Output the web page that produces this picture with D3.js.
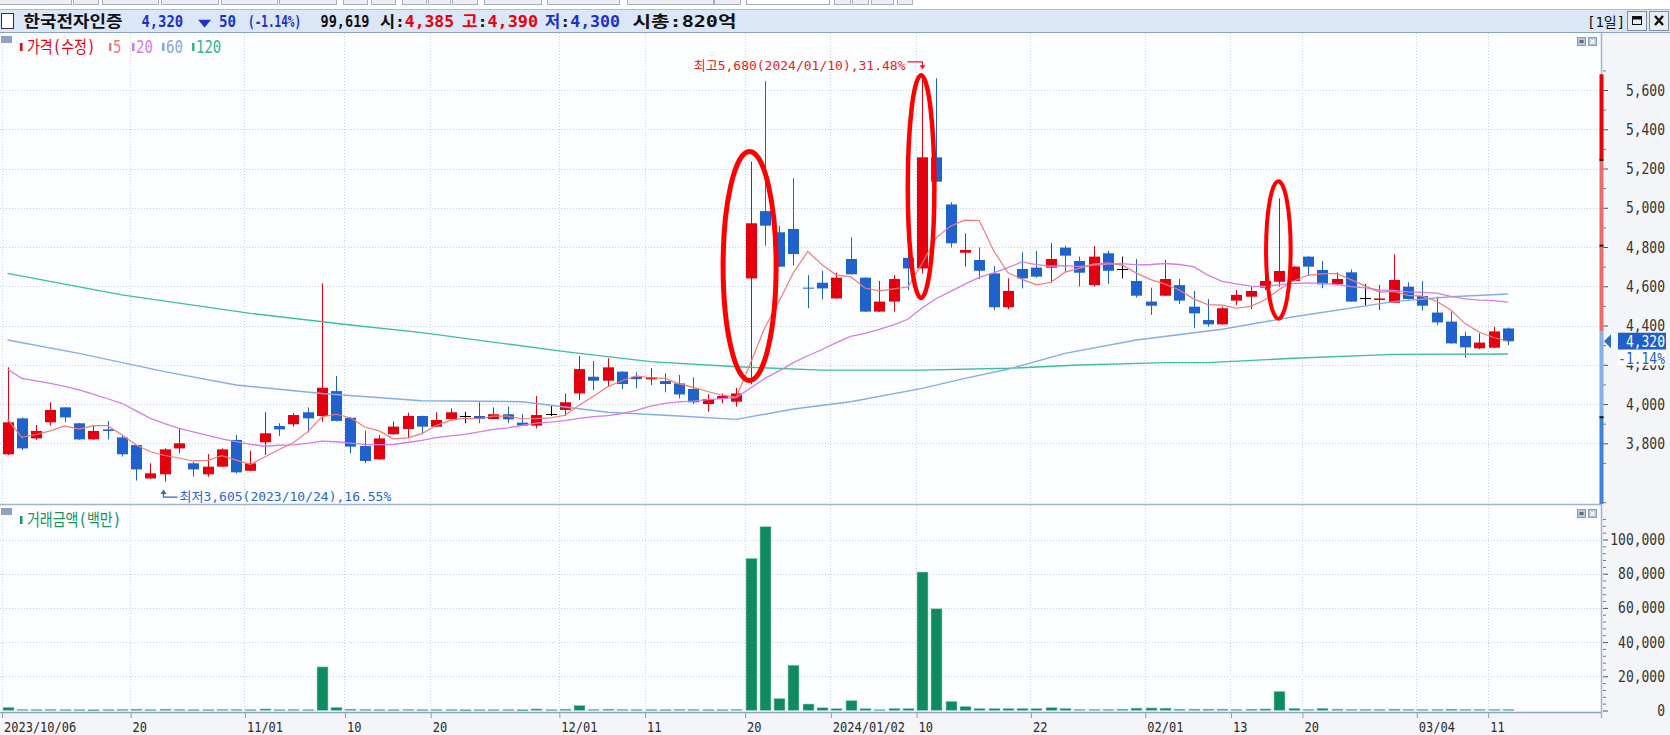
<!DOCTYPE html>
<html><head><meta charset="utf-8">
<script src="https://cdn.jsdelivr.net/npm/d3@7/dist/d3.min.js"></script>
<style>
html,body{margin:0;padding:0;background:#fff;overflow:hidden;}
svg{display:block;}
text{font-family:"DejaVu Sans Mono","Noto Sans CJK KR",monospace;}
.tall{transform-box:fill-box;transform-origin:center;transform:scaleY(1.2);}
</style></head><body>
<svg id="chart" width="1670" height="735"></svg>
<script>
// ---------------- DATA ----------------
const dates = [
"2023/10/06","2023/10/10","2023/10/11","2023/10/12","2023/10/13","2023/10/16","2023/10/17","2023/10/18","2023/10/19","2023/10/20",
"2023/10/23","2023/10/24","2023/10/25","2023/10/26","2023/10/27","2023/10/30","2023/10/31",
"2023/11/01","2023/11/02","2023/11/03","2023/11/06","2023/11/07","2023/11/08","2023/11/09","2023/11/10","2023/11/13","2023/11/14",
"2023/11/15","2023/11/16","2023/11/17","2023/11/20","2023/11/21","2023/11/22","2023/11/23","2023/11/24","2023/11/27","2023/11/28","2023/11/29","2023/11/30",
"2023/12/01","2023/12/04","2023/12/05","2023/12/06","2023/12/07","2023/12/08","2023/12/11","2023/12/12","2023/12/13","2023/12/14",
"2023/12/15","2023/12/18","2023/12/19","2023/12/20","2023/12/21","2023/12/22","2023/12/26","2023/12/27","2023/12/28",
"2024/01/02","2024/01/03","2024/01/04","2024/01/05","2024/01/08","2024/01/09","2024/01/10","2024/01/11","2024/01/12","2024/01/15",
"2024/01/16","2024/01/17","2024/01/18","2024/01/19","2024/01/22","2024/01/23","2024/01/24","2024/01/25","2024/01/26","2024/01/29","2024/01/30","2024/01/31",
"2024/02/01","2024/02/02","2024/02/05","2024/02/06","2024/02/07","2024/02/08","2024/02/13","2024/02/14","2024/02/15","2024/02/16",
"2024/02/19","2024/02/20","2024/02/21","2024/02/22","2024/02/23","2024/02/26","2024/02/27","2024/02/28","2024/02/29",
"2024/03/04","2024/03/05","2024/03/06","2024/03/07","2024/03/08","2024/03/11","2024/03/12"];

const opens = [3744,3927,3825,3907,3983,3902,3820,3871,3830,3791,3621,3642,3774,3698,3642,3681,3817,3660,3805,3888,
3897,3958,3939,4066,3930,3786,3718,3846,3873,3939,3885,3924,3939,3939,3924,3948,3905,3890,3948,3970,
4054,4139,4119,4165,4139,4126,4117,4105,4077,4000,4026,4012,4640,4983,4875,4892,4593,4618,4538,4739,
4644,4471,4522,4745,4691,5257,5017,4771,4734,4666,4493,4688,4695,4695,4797,4729,4606,4768,4686,4627,
4522,4552,4606,4496,4428,4406,4527,4547,4593,4623,4627,4751,4683,4610,4671,4542,4530,4516,4598,4550,
4466,4420,4347,4284,4287,4385];
const highs = [4187,3932,3893,4009,3985,3904,3890,3913,3842,3793,3698,3774,3873,3706,3745,3774,3842,3762,3958,3902,
3953,3983,4615,4143,3932,3864,3842,3910,3956,3941,3958,3978,3961,4009,3983,3987,3949,4041,3995,4054,
4245,4219,4233,4167,4161,4182,4156,4148,4136,4049,4054,4083,5235,5645,4909,5150,4657,4678,4669,4849,
4646,4627,4657,4840,5680,5660,5028,4870,4798,4703,4640,4773,4780,4819,4807,4751,4805,4781,4751,4739,
4593,4734,4637,4576,4535,4496,4581,4598,4650,5048,4703,4753,4729,4671,4686,4612,4606,4763,4620,4627,
4547,4471,4369,4360,4394,4390];
const lows = [3740,3766,3817,3890,3907,3818,3818,3820,3732,3610,3619,3605,3749,3630,3630,3679,3647,3658,3740,3837,
3885,3856,3910,3912,3749,3698,3716,3844,3825,3851,3883,3919,3902,3902,3922,3902,3888,3876,3939,3939,
4021,4071,4088,4075,4080,4097,4060,4029,4000,3961,4003,3987,4100,4807,4698,4705,4488,4533,4536,4659,
4469,4469,4471,4580,4666,5131,4798,4700,4637,4479,4483,4589,4644,4618,4674,4598,4598,4612,4640,4543,
4454,4550,4510,4386,4394,4404,4505,4483,4581,4598,4625,4657,4590,4603,4520,4501,4479,4514,4533,4476,
4403,4307,4236,4279,4285,4300];
const closes = [3907,3774,3863,3970,3932,3820,3863,3863,3744,3667,3647,3769,3800,3667,3681,3769,3652,3698,3851,3871,
3944,3927,4083,3914,3783,3710,3825,3885,3939,3885,3919,3958,3939,3924,3948,3922,3890,3944,3948,4009,
4178,4119,4187,4102,4127,4136,4102,4049,4009,4026,4041,4054,4921,4909,4700,4764,4589,4589,4644,4661,
4471,4522,4637,4691,5257,5133,4819,4785,4679,4493,4576,4640,4649,4739,4756,4669,4751,4679,4686,4552,
4501,4637,4527,4462,4406,4488,4556,4576,4627,4678,4700,4700,4610,4637,4522,4542,4538,4632,4535,4501,
4416,4309,4289,4313,4370,4320];

const ma5 = [3922,3830,3845,3863,3889,3872,3890,3890,3844,3791,3757,3738,3725,3710,3713,3737,3714,3693,3730,3768,
3803,3858,3935,3948,3930,3883,3863,3823,3828,3849,3891,3917,3928,3925,3938,3938,3925,3926,3930,3943,
3994,4040,4088,4119,4143,4134,4131,4103,4085,4064,4045,4036,4210,4390,4525,4670,4777,4710,4657,4649,
4591,4577,4587,4596,4716,4848,4907,4937,4935,4782,4670,4635,4607,4619,4672,4691,4713,4719,4708,4667,
4634,4611,4581,4536,4507,4504,4488,4498,4531,4585,4627,4656,4663,4665,4634,4602,4570,4574,4554,4550,
4524,4479,4410,4366,4339,4320];
const ma20 = [4177,4131,4118,4105,4090,4072,4050,4027,4004,3965,3927,3900,3876,3858,3840,3822,3808,3795,3785,3790,
3792,3800,3811,3808,3801,3795,3793,3794,3804,3815,3829,3838,3845,3858,3871,3879,3891,3903,3908,3915,
3927,3936,3941,3951,3968,3989,4003,4011,4015,4022,4028,4033,4082,4131,4169,4211,4246,4278,4313,4345,
4360,4380,4403,4432,4489,4538,4574,4611,4645,4668,4695,4724,4710,4702,4705,4700,4708,4713,4715,4709,
4711,4716,4711,4700,4657,4625,4612,4601,4599,4608,4614,4617,4615,4610,4598,4592,4581,4579,4571,4569,
4565,4548,4536,4529,4527,4519];
const ma60Idx = [0,5,11,16,22,29,36,42,47,51,55,59,64,67,70,74,79,85,90,97,101,105];
const ma60Val = [4326,4258,4165,4097,4054,4017,4012,3958,3939,3922,3975,4012,4080,4131,4177,4258,4326,4381,4445,4522,4547,4561];
const ma120Idx = [0,8,17,24,29,39,45,51,57,64,70,75,81,84,90,97,105];
const ma120Val = [4666,4556,4462,4403,4364,4267,4216,4190,4173,4173,4182,4199,4211,4211,4233,4253,4255];

const tradeValue = [1900,700,600,700,600,600,500,600,700,800,600,800,700,600,600,700,700,600,900,600,
700,600,25500,1900,800,700,600,600,700,600,600,600,500,600,600,600,500,900,600,800,
3000,700,800,700,600,600,600,700,700,600,600,700,89000,107500,7000,26500,3800,1600,1100,5800,
1100,600,1200,1200,81000,59500,5400,2400,1200,1200,1200,1200,1200,1700,1200,700,700,700,800,1400,
1500,1400,800,800,800,800,700,800,900,11200,1300,700,1300,800,700,700,700,800,700,700,
700,800,700,700,700,700];

const tickDates = ["2023/10/06","2023/10/20","2023/11/01","2023/11/10","2023/11/20","2023/12/01","2023/12/11","2023/12/20",
"2024/01/02","2024/01/10","2024/01/22","2024/02/01","2024/02/13","2024/02/20","2024/03/04","2024/03/11"];
const tickLabels = ["2023/10/06","20","11/01","10","20","12/01","11","20","2024/01/02","10","22","02/01","13","20","03/04","11"];
const priceTicks = [3800,4000,4200,4400,4600,4800,5000,5200,5400,5600];
const volumeTicks = [0,20000,40000,60000,80000,100000];

const seriesNames = ["가격(수정)","5","20","60","120"];
const volumeName = "거래금액(백만)";
const stockName = "한국전자인증";
const prevClose = 4370;
const lastVolume = 99619;
const marketCap = "820억";
const ringIdx = [52,64,89];
const ringTop = [5287,5675,5135];
const ringBottom = [4120,4540,4435];
const gaugeStops = [5680,5244,4370,3933,3059];
const gaugeMarks = [5244,4807,3933];

// ---------------- LAYOUT ----------------
const RED="#e3000f", BLUE="#1f62cb";
const W=1670,H=735, plotR=1601, pTop=33, pBot=504, vTop=505, vBot=712;
const svg=d3.select("#chart");
const x=d3.scalePoint().domain(dates).range([7.5,1508]);
const y=d3.scaleLinear().domain([3800,5600]).range([443.3,90]);
const yv=d3.scaleLinear().domain([0,100000]).range([710.5,539.5]);
const fmt=d3.format(",");
const cx=d=>Math.round(x(d));

svg.append("rect").attr("width",W).attr("height",H).attr("fill","#fff");

// toolbar strip
const tb=[[-2,71],[73,98],[102,158],[161,218],[221,277],[279,336],[343,367],[371,395],[402,426],[428,450],[452,477],[484,541],[547,619],[627,713],[714,740],[834,850],[852,868],[871,893],[897,912]];
tb.forEach(([a,b])=>svg.append("rect").attr("x",a+0.5).attr("y",-6.5).attr("width",b-a).attr("height",11)
  .attr("fill","#eceef2").attr("stroke","#a6afbd"));
svg.append("rect").attr("x",746.5).attr("y",-6.5).attr("width",83).attr("height",11).attr("fill","#fff").attr("stroke","#a6afbd");

// header bar
svg.append("rect").attr("x",0).attr("y",9.5).attr("width",W).attr("height",23).attr("fill","#dbe6f6");
svg.append("line").attr("x1",0).attr("x2",W).attr("y1",9.5).attr("y2",9.5).attr("stroke","#a9bbd6");
svg.append("line").attr("x1",0).attr("x2",W).attr("y1",32.5).attr("y2",32.5).attr("stroke","#8aa2c6");

// panels
svg.append("rect").attr("x",0).attr("y",pTop).attr("width",plotR).attr("height",pBot-pTop).attr("fill","#fcfdff");
svg.append("rect").attr("x",0).attr("y",vTop).attr("width",plotR).attr("height",vBot-vTop).attr("fill","#fcfdff");
svg.append("rect").attr("x",plotR).attr("y",pTop).attr("width",W-plotR).attr("height",vBot-pTop).attr("fill","#f3f5f8");
svg.append("rect").attr("x",0).attr("y",vBot).attr("width",W).attr("height",H-vBot).attr("fill","#f3f5f8");

// grid
const grid=svg.append("g").attr("stroke","#c9d1dd").attr("stroke-dasharray","1,2").attr("stroke-width",1);
priceTicks.forEach(t=>grid.append("line").attr("x1",0).attr("x2",plotR).attr("y1",Math.round(y(t))+0.5).attr("y2",Math.round(y(t))+0.5));
volumeTicks.filter(t=>t>0).forEach(t=>grid.append("line").attr("x1",0).attr("x2",plotR).attr("y1",Math.round(yv(t))+0.5).attr("y2",Math.round(yv(t))+0.5));
tickDates.forEach(d=>{
  const gx=cx(d)-5.5;
  grid.append("line").attr("x1",gx).attr("x2",gx).attr("y1",pTop).attr("y2",pBot);
  grid.append("line").attr("x1",gx).attr("x2",gx).attr("y1",vTop).attr("y2",vBot);
});

// borders
svg.append("line").attr("x1",0).attr("x2",plotR).attr("y1",pBot+0.5).attr("y2",pBot+0.5).attr("stroke","#9fb2ce").attr("stroke-width",1.5);
svg.append("line").attr("x1",0).attr("x2",plotR).attr("y1",vBot+0.5).attr("y2",vBot+0.5).attr("stroke","#8fa3c3").attr("stroke-width",1.5);
svg.append("line").attr("x1",plotR+0.5).attr("x2",plotR+0.5).attr("y1",pTop).attr("y2",vBot+6).attr("stroke","#9fb2ce").attr("stroke-width",1.5);

// candles
const candles=dates.map((d,i)=>({d,o:opens[i],h:highs[i],l:lows[i],c:closes[i]}));
const colr=k=>k.c>k.o?RED:(k.c<k.o?BLUE:"#000");
const gc=svg.append("g");
gc.selectAll("line.wick").data(candles).join("line").attr("class","wick")
  .attr("x1",k=>cx(k.d)+0.5).attr("x2",k=>cx(k.d)+0.5)
  .attr("y1",k=>y(k.h)).attr("y2",k=>y(k.l)).attr("stroke",colr).attr("stroke-width",1);
gc.selectAll("rect.body").data(candles).join("rect").attr("class","body")
  .attr("x",k=>cx(k.d)-5).attr("width",11)
  .attr("y",k=>k.o===k.c?Math.round(y(k.c)):y(Math.max(k.o,k.c)))
  .attr("height",k=>Math.max(1,Math.abs(y(k.o)-y(k.c))))
  .attr("fill",colr);

// moving averages
const lineIdx=d3.line().x((v,i)=>x(dates[i])).y(v=>y(v));
const linePair=d3.line().x(p=>x(dates[p[0]])).y(p=>y(p[1]));
svg.append("path").attr("d",linePair(ma120Idx.map((k,i)=>[k,ma120Val[i]]))).attr("fill","none").attr("stroke","#3dbf9c").attr("stroke-width",1.4);
svg.append("path").attr("d",linePair(ma60Idx.map((k,i)=>[k,ma60Val[i]]))).attr("fill","none").attr("stroke","#86ade4").attr("stroke-width",1.4);
svg.append("path").attr("d",lineIdx(ma20)).attr("fill","none").attr("stroke","#d57ce8").attr("stroke-width",1.3);
svg.append("path").attr("d",lineIdx(ma5)).attr("fill","none").attr("stroke","#f27b78").attr("stroke-width",1.2);

// volume bars
svg.append("g").selectAll("rect").data(tradeValue).join("rect")
  .attr("x",(v,i)=>cx(dates[i])-5).attr("width",11)
  .attr("y",v=>yv(v)).attr("height",v=>Math.max(1.2,yv(0)-yv(v)))
  .attr("fill","#0f8b5f").attr("stroke","#9fd4bf").attr("stroke-width",0.6);

// red rings
ringIdx.forEach((k,i)=>{
  const rw=[26.5,13.3,12.3][i], sw=[5,4.5,4][i];
  svg.append("ellipse").attr("cx",x(dates[k])-1).attr("cy",(y(ringTop[i])+y(ringBottom[i]))/2)
    .attr("rx",rw).attr("ry",(y(ringBottom[i])-y(ringTop[i]))/2)
    .attr("fill","none").attr("stroke","#ff0000").attr("stroke-width",sw);
});

// max / min annotations
const last=closes[closes.length-1];
const iMax=d3.maxIndex(highs), iMin=d3.minIndex(lows);
const maxX=cx(dates[iMax])+0.5, maxY=y(highs[iMax]);
svg.append("text").attr("x",maxX-17).attr("y",maxY-4.5).attr("text-anchor","end").attr("font-size",13).attr("fill","#e8221e")
  .text(`최고${fmt(highs[iMax])}(${dates[iMax]}),${((highs[iMax]-last)/last*100).toFixed(2)}%`);
svg.append("path").attr("d",`M${maxX-15},${maxY-12.5}H${maxX}V${maxY-8}`).attr("fill","none").attr("stroke","#e8221e").attr("stroke-width",1.2);
svg.append("path").attr("d",`M${maxX-3},${maxY-9}L${maxX+3},${maxY-9}L${maxX},${maxY-5}Z`).attr("fill","#e8221e");
const minX=cx(dates[iMin])-1.5, minY=y(lows[iMin]);
svg.append("path").attr("d",`M${minX},${minY+12}V${minY+15.5}H${minX+14}`).attr("fill","none").attr("stroke","#2b63d2").attr("stroke-width",1.2);
svg.append("path").attr("d",`M${minX-3},${minY+12.5}L${minX+3},${minY+12.5}L${minX},${minY+8}Z`).attr("fill","#2b63d2");
svg.append("text").attr("x",minX+16).attr("y",minY+19.5).attr("font-size",13).attr("fill","#2b63d2")
  .text(`최저${fmt(lows[iMin])}(${dates[iMin]}),${((last-lows[iMin])/last*100).toFixed(2)}%`);

// price axis
const gy=svg.append("g").attr("transform",`translate(${plotR+2},0)`)
  .call(d3.axisRight(y).tickValues(priceTicks).tickFormat(fmt).tickSize(5).tickPadding(0));
gy.select(".domain").remove();
gy.attr("font-family",null).attr("font-size",13);
gy.selectAll(".tick line").attr("stroke","#555");
gy.selectAll(".tick text").attr("x",62).attr("text-anchor","end").attr("fill","#333").attr("class","tall");
const minorP=d3.range(3500,5900,100).filter(v=>v%200!==0);
svg.append("g").attr("transform",`translate(${plotR+2},0)`)
  .call(d3.axisRight(y).tickValues(minorP).tickFormat("").tickSize(3)).call(g=>g.select(".domain").remove())
  .selectAll(".tick line").attr("stroke","#777");

// gauge bar on price axis
for(let k=0;k<4;k++){
  const y1=y(gaugeStops[k]), y2=Math.min(y(gaugeStops[k+1]),pBot);
  svg.append("rect").attr("x",1599.5).attr("y",y1).attr("width",4).attr("height",y2-y1)
    .attr("fill",["#e8000d","#ef6b6b","#86b0e6","#3f82dc"][k]);
}
gaugeMarks.forEach(m=>svg.append("rect").attr("x",1599.5).attr("y",y(m)-1).attr("width",4).attr("height",2).attr("fill","#111"));

// current price tag
const yc=y(last);
svg.append("path").attr("d",`M1604,${yc}L1611,${yc-7}L1611,${yc+7}Z`).attr("fill","#2d6ad0");
svg.append("rect").attr("x",1618).attr("y",yc-8.5).attr("width",48).attr("height",17).attr("fill","#1f5fc8");
svg.append("text").attr("x",1665).attr("y",yc+5).attr("text-anchor","end").attr("font-size",13).attr("fill","#fff").attr("class","tall").text(fmt(last));
svg.append("rect").attr("x",1618).attr("y",yc+8.5).attr("width",48).attr("height",15.5).attr("fill","#fff");
svg.append("text").attr("x",1665).attr("y",yc+21.5).attr("text-anchor","end").attr("font-size",13).attr("fill","#1f5fc8").attr("class","tall")
  .text(`${((last-prevClose)/prevClose*100).toFixed(2)}%`);

// volume axis
const gvy=svg.append("g").attr("transform",`translate(${plotR+2},0)`)
  .call(d3.axisRight(yv).tickValues(volumeTicks).tickFormat(fmt).tickSize(5).tickPadding(0));
gvy.select(".domain").remove();
gvy.attr("font-family",null).attr("font-size",13);
gvy.selectAll(".tick line").attr("stroke","#555");
gvy.selectAll(".tick text").attr("x",62).attr("text-anchor","end").attr("fill","#333").attr("class","tall");
const minorV=d3.range(4000,116000,4000).filter(v=>v%20000!==0);
svg.append("g").attr("transform",`translate(${plotR+2},0)`)
  .call(d3.axisRight(yv).tickValues(minorV).tickFormat("").tickSize(3)).call(g=>g.select(".domain").remove())
  .selectAll(".tick line").attr("stroke","#777");

// x axis
const gxa=svg.append("g").attr("transform",`translate(-5.5,${vBot})`)
  .call(d3.axisBottom(x).tickValues(tickDates).tickFormat((d,i)=>tickLabels[i]).tickSize(6).tickPadding(2));
gxa.select(".domain").remove();
gxa.attr("font-family",null).attr("font-size",12);
gxa.selectAll(".tick line").attr("stroke","#8b9dbd");
gxa.selectAll(".tick text").attr("text-anchor","start").attr("x",1.5).attr("y",19).attr("dy",null).attr("fill","#2a2a2a").attr("class","tall");

// legends
function panelMark(yy){
  svg.append("rect").attr("x",1).attr("y",yy).attr("width",11).attr("height",7).attr("fill","#8ea2c3");
}
panelMark(36); panelMark(508);
const legCols=["#e3000f","#f07a78","#d47ae6","#7fa8e0","#2fb48f"];
const legX=[20,109,132,162,192];
seriesNames.forEach((n,i)=>{
  svg.append("rect").attr("x",legX[i]).attr("y",43).attr("width",2.5).attr("height",8).attr("fill",legCols[i]);
  svg.append("text").attr("x",legX[i]+(i===0?7:4)).attr("y",52.5).attr("font-size",14).attr("fill",legCols[i]).attr("class","tall").text(n);
});
svg.append("rect").attr("x",20).attr("y",516).attr("width",2.5).attr("height",8).attr("fill","#16925f");
svg.append("text").attr("x",27).attr("y",525.5).attr("font-size",14).attr("fill","#16925f").attr("class","tall").text(volumeName);

function panelIcons(yy){
  svg.append("rect").attr("x",1577.5).attr("y",yy+0.5).attr("width",8).attr("height",8).attr("fill","#b9c5d8").attr("stroke","#8b9bb7");
  svg.append("rect").attr("x",1579.5).attr("y",yy+3).attr("width",4).attr("height",3).attr("fill","#5a6a88");
  svg.append("rect").attr("x",1588.5).attr("y",yy+0.5).attr("width",8).attr("height",8).attr("fill","#b9c5d8").attr("stroke","#8b9bb7");
  svg.append("path").attr("d",`M1590.5,${yy+2.5}L1594.5,${yy+6.5}M1594.5,${yy+2.5}L1590.5,${yy+6.5}`).attr("stroke","#fff").attr("stroke-width",1.3);
}
panelIcons(37); panelIcons(509);

// header texts
svg.append("rect").attr("x",1.5).attr("y",13.5).attr("width",12).attr("height",15).attr("fill","#fff").attr("stroke","#333");
const hb=27;
const BLK="#111", HRED="#e8000d", HBLU="#1a32c8";
function hdrText(x0,w,parts,fs){
  const t=svg.append("text").attr("x",x0).attr("y",hb).attr("font-size",fs||16).attr("font-weight","bold")
    .attr("font-family","Noto Sans CJK KR").attr("textLength",w).attr("lengthAdjust","spacingAndGlyphs");
  parts.forEach(([s,c])=>t.append("tspan").attr("fill",c).text(s));
  return t;
}
const chg=last-prevClose;
hdrText(23.5,99,[[stockName,BLK]],16);
hdrText(141.5,41.5,[[fmt(last),HBLU]]);
hdrText(198,13,[["▼",HBLU]],13);
hdrText(219,17,[[fmt(Math.abs(chg)),HBLU]]);
hdrText(248,53,[[`(${(chg/prevClose*100).toFixed(2)}%)`,HBLU]]);
hdrText(320.5,49,[[fmt(lastVolume),BLK]]);
hdrText(380,74,[["시:",BLK],[fmt(opens[opens.length-1]),HRED]]);
hdrText(462,76,[["고",HRED],[":",BLK],[fmt(highs[highs.length-1]),HRED]]);
hdrText(545,75,[["저",HBLU],[":",BLK],[fmt(lows[lows.length-1]),HBLU]]);
hdrText(632.5,104,[[`시총:${marketCap}`,BLK]]);

svg.append("text").attr("x",1587).attr("y",27).attr("font-size",14).attr("fill","#111").text("[1일]");
[[1627,"min"],[1649,"x"]].forEach(([bx,k])=>{
  svg.append("rect").attr("x",bx+0.5).attr("y",11.5).attr("width",19).attr("height",19).attr("fill","#e9ecf1").attr("stroke","#7f8ca3");
  if(k==="min"){
    svg.append("rect").attr("x",bx+5.5).attr("y",16.5).attr("width",9).attr("height",8).attr("fill","none").attr("stroke","#111");
    svg.append("rect").attr("x",bx+5.5).attr("y",16.5).attr("width",9).attr("height",3).attr("fill","#111");
  } else {
    svg.append("path").attr("d",`M${bx+6},${16}L${bx+14},${25}M${bx+14},${16}L${bx+6},${25}`).attr("stroke","#111").attr("stroke-width",2.4);
  }
});
</script></body></html>
